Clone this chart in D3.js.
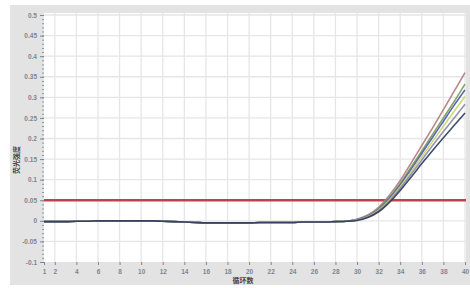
<!DOCTYPE html>
<html>
<head>
<meta charset="utf-8">
<script src="https://cdn.jsdelivr.net/npm/d3@7"></script>
<style>
  html, body { margin: 0; padding: 0; background: #fff; }
  svg { display: block; font-family: "Noto Sans", "Noto Sans CJK SC", sans-serif; }
</style>
</head>
<body>
<div id="chart"></div>
<script>
// cycles 1..40
const cycles = d3.range(1, 41);

// shared flat baseline, cycles 1..29
const baseline = [-0.002, -0.002, -0.002, -0.001, -0.001, 0.000, 0.000, 0.000, 0.000, 0.000,
  0.000, -0.001, -0.002, -0.003, -0.004, -0.005, -0.005, -0.005, -0.005, -0.005,
  -0.004, -0.004, -0.004, -0.004, -0.003, -0.003, -0.003, -0.002, -0.001];

// amplification part, cycles 30..40
const rise1 = [0.004, 0.014, 0.033, 0.062, 0.098, 0.140, 0.183, 0.226, 0.270, 0.315, 0.360];
const rise2 = [0.003, 0.012, 0.030, 0.057, 0.091, 0.130, 0.170, 0.210, 0.250, 0.290, 0.332];
const rise3 = [0.003, 0.011, 0.028, 0.054, 0.087, 0.125, 0.164, 0.203, 0.242, 0.281, 0.318];
const rise4 = [0.002, 0.010, 0.026, 0.051, 0.083, 0.119, 0.156, 0.193, 0.230, 0.266, 0.302];
const rise5 = [0.002, 0.009, 0.024, 0.048, 0.079, 0.113, 0.148, 0.183, 0.217, 0.250, 0.283];
const rise6 = [0.001, 0.008, 0.022, 0.045, 0.074, 0.106, 0.139, 0.171, 0.202, 0.232, 0.262];

const seriesColors = ["#b07a7a", "#7a9a5a", "#4a5aa8", "#c8d468", "#8a8aa8", "#2e3a5a"];
const threshold = 0.05;

const yTicks = [-0.1, -0.05, 0, 0.05, 0.1, 0.15, 0.2, 0.25, 0.3, 0.35, 0.4, 0.45, 0.5];
const xTicks = [1, 2, 4, 6, 8, 10, 12, 14, 16, 18, 20, 22, 24, 26, 28, 30, 32, 34, 36, 38, 40];

const xTitle = "循环数";
const yTitle = "荧光强度";

const series = [rise1, rise2, rise3, rise4, rise5, rise6]
  .map((r, i) => ({ color: seriesColors[i], values: baseline.concat(r) }));

const width = 470, height = 288;
const plot = { left: 44, right: 466, top: 13, bottom: 262 };

const svg = d3.select("#chart").append("svg")
  .attr("width", width)
  .attr("height", height);

// gray panel + white plot area
svg.append("rect")
  .attr("x", 10).attr("y", 5)
  .attr("width", width - 10).attr("height", 280)
  .attr("fill", "#e3e3e3");

svg.append("rect")
  .attr("x", plot.left).attr("y", plot.top)
  .attr("width", plot.right - plot.left).attr("height", plot.bottom - plot.top)
  .attr("fill", "#fff");

const x = d3.scaleLinear().domain([1, 40]).range([plot.left, plot.right - 1]);
const y = d3.scaleLinear().domain([-0.1, 0.5]).range([plot.bottom, plot.top + 2]);

// grid
svg.append("g")
  .selectAll("line")
  .data(xTicks.filter(d => d > 1))
  .join("line")
  .attr("x1", d => x(d)).attr("x2", d => x(d))
  .attr("y1", plot.top).attr("y2", plot.bottom)
  .attr("stroke", "#e6e6e6")
  .attr("stroke-width", 1.3);

svg.append("g")
  .selectAll("line")
  .data(yTicks.filter(d => d > -0.1))
  .join("line")
  .attr("x1", plot.left).attr("x2", plot.right)
  .attr("y1", d => y(d)).attr("y2", d => y(d))
  .attr("stroke", "#e6e6e6")
  .attr("stroke-width", 1.3);

// y axis
const yAxis = svg.append("g")
  .attr("transform", `translate(${plot.left},0)`)
  .call(d3.axisLeft(y).tickValues(d3.range(-0.1, 0.501, 0.01)).tickSize(2).tickFormat(""));
yAxis.select(".domain").remove();
yAxis.selectAll("line").attr("stroke", "#8a96a3");

const yMajor = svg.append("g")
  .attr("transform", `translate(${plot.left},0)`)
  .call(d3.axisLeft(y).tickValues(yTicks).tickSize(4).tickPadding(3).tickFormat(d => String(+d.toFixed(2))));
yMajor.select(".domain").remove();
yMajor.selectAll("line").attr("stroke", "#7b8794");
yMajor.selectAll("text")
  .attr("font-size", 6.5)
  .attr("font-weight", "bold")
  .attr("fill", "#7b8794");

// x axis
const xAxis = svg.append("g")
  .attr("transform", `translate(0,${plot.bottom})`)
  .call(d3.axisBottom(x).tickValues(xTicks).tickSize(3).tickPadding(4).tickFormat(d3.format("d")));
xAxis.select(".domain").remove();
xAxis.selectAll("line").attr("stroke", "#7b8794");
xAxis.selectAll("text")
  .attr("font-size", 6.5)
  .attr("font-weight", "bold")
  .attr("fill", "#7b8794");

// axis titles
svg.append("text")
  .attr("x", 243).attr("y", 283)
  .attr("text-anchor", "middle")
  .attr("font-size", 7)
  .attr("font-weight", "bold")
  .attr("fill", "#444")
  .text(xTitle);

svg.append("text")
  .attr("transform", "translate(19,160) rotate(-90)")
  .attr("text-anchor", "middle")
  .attr("font-size", 7)
  .attr("font-weight", "bold")
  .attr("fill", "#444")
  .text(yTitle);

// threshold
svg.append("line")
  .attr("x1", plot.left).attr("x2", plot.right)
  .attr("y1", y(threshold)).attr("y2", y(threshold))
  .attr("stroke", "#c0404c")
  .attr("stroke-width", 2.4);

// curves
const line = d3.line()
  .x((d, i) => x(cycles[i]))
  .y(d => y(d))
  .curve(d3.curveMonotoneX);

svg.append("g")
  .selectAll("path")
  .data(series)
  .join("path")
  .attr("d", d => line(d.values))
  .attr("fill", "none")
  .attr("stroke", d => d.color)
  .attr("stroke-width", 1.6)
  .attr("opacity", 0.9);
</script>
</body>
</html>
